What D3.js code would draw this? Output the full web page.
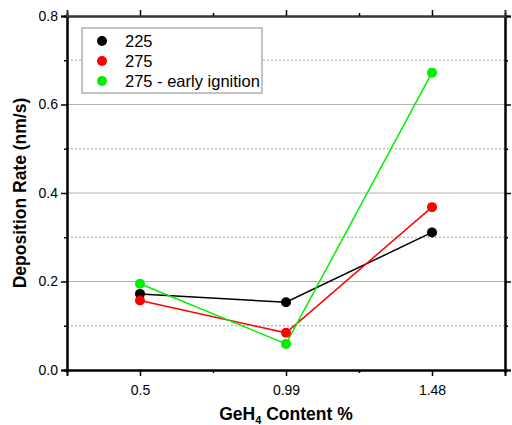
<!DOCTYPE html>
<html><head><meta charset="utf-8">
<script src="https://cdn.jsdelivr.net/npm/d3@7"></script>
<style>body{margin:0;background:#fff}svg{display:block;font-family:Arial,"Liberation Sans",sans-serif}</style>
</head><body>
<svg id="c" width="512" height="425"></svg>
<script>
const categories = ["0.5", "0.99", "1.48"];
const seriesNames = ["225", "275", "275 - early ignition"];
const series225 = [0.172, 0.153, 0.311];
const series275 = [0.157, 0.084, 0.368];
const series275early = [0.195, 0.059, 0.672];
const seriesColors = ["#000000", "#ff0000", "#00ee00"];
const yMajorTicks = [0.0, 0.2, 0.4, 0.6, 0.8];
const yMinorTicks = [0.1, 0.3, 0.5, 0.7];

const allSeries = [series225, series275, series275early];
const svg = d3.select("#c");
const L = 67, R = 505, T = 16, B = 370;
const x = d3.scaleLinear().domain([-0.5, categories.length - 0.5]).range([L, R]);
const y = d3.scaleLinear().domain([0, 0.8]).range([B, T]);

// grid
svg.append("g").selectAll("line").data(yMajorTicks.filter(v => v > 0 && v < 0.8)).join("line")
  .attr("x1", L).attr("x2", R).attr("y1", d => y(d)).attr("y2", d => y(d))
  .attr("stroke", "#b4b4b4").attr("stroke-width", 1);
svg.append("g").selectAll("line").data(yMinorTicks).join("line")
  .attr("x1", L).attr("x2", R).attr("y1", d => y(d)).attr("y2", d => y(d))
  .attr("stroke", "#888").attr("stroke-width", 0.8).attr("stroke-dasharray", "2,2");

// axes
const xMinor = d3.range(categories.length - 1).map(i => i + 0.5);
const fmt = d3.format(".1f");
const gl = svg.append("g").attr("transform", `translate(${L},0)`)
  .call(d3.axisLeft(y).tickValues(yMajorTicks).tickFormat(fmt).tickSize(6).tickPadding(3));
const glm = svg.append("g").attr("transform", `translate(${L},0)`)
  .call(d3.axisLeft(y).tickValues(yMinorTicks).tickFormat("").tickSize(3));
const gr = svg.append("g").attr("transform", `translate(${R},0)`)
  .call(d3.axisRight(y).tickValues(yMajorTicks).tickFormat("").tickSize(6));
const grm = svg.append("g").attr("transform", `translate(${R},0)`)
  .call(d3.axisRight(y).tickValues(yMinorTicks).tickFormat("").tickSize(3));
const gb = svg.append("g").attr("transform", `translate(0,${B})`)
  .call(d3.axisBottom(x).tickValues(d3.range(categories.length)).tickFormat(i => categories[i]).tickSize(6).tickPadding(9));
const gbm = svg.append("g").attr("transform", `translate(0,${B})`)
  .call(d3.axisBottom(x).tickValues(xMinor).tickFormat("").tickSize(3));
const gt = svg.append("g").attr("transform", `translate(0,${T})`)
  .call(d3.axisTop(x).tickValues(d3.range(categories.length)).tickFormat("").tickSize(6));
const gtm = svg.append("g").attr("transform", `translate(0,${T})`)
  .call(d3.axisTop(x).tickValues(xMinor).tickFormat("").tickSize(3));
[gl, glm, gr, grm, gb, gbm, gt, gtm].forEach(g => {
  g.attr("font-size", 14).attr("font-family", "Arial, 'Liberation Sans', sans-serif");
  g.select(".domain").attr("stroke", "#000").attr("stroke-width", 2);
  g.selectAll(".tick line").attr("stroke", "#000").attr("stroke-width", 1.5);
  g.selectAll("text").attr("fill", "#000");
});
[gt, gtm].forEach(g => g.select(".domain").attr("stroke", "#333"));

// lines & points
const line = d3.line().x((d, i) => x(i)).y(d => y(d));
allSeries.forEach((s, k) => {
  svg.append("path").datum(s).attr("d", line).attr("fill", "none")
    .attr("stroke", seriesColors[k]).attr("stroke-width", 1.5);
});
allSeries.forEach((s, k) => {
  svg.append("g").selectAll("circle").data(s).join("circle")
    .attr("cx", (d, i) => x(i)).attr("cy", d => y(d)).attr("r", 5)
    .attr("fill", seriesColors[k]);
});

// legend
const lg = svg.append("g");
lg.append("rect").attr("x", 82).attr("y", 28).attr("width", 180).attr("height", 65)
  .attr("fill", "#fff").attr("stroke", "#888").attr("stroke-width", 1);
seriesNames.forEach((n, k) => {
  const yy = 41 + k * 20;
  lg.append("circle").attr("cx", 102).attr("cy", yy).attr("r", 5).attr("fill", seriesColors[k]);
  lg.append("text").attr("x", 125).attr("y", yy + 6).attr("font-size", 16.5).text(n);
});

// titles
svg.append("text").attr("transform", `translate(26,${(T + B) / 2}) rotate(-90)`)
  .attr("text-anchor", "middle").attr("font-size", 17.5).attr("font-weight", "bold")
  .text("Deposition Rate (nm/s)");
const xt = svg.append("text").attr("x", (L + R) / 2).attr("y", 420)
  .attr("text-anchor", "middle").attr("font-size", 17.5).attr("font-weight", "bold");
xt.append("tspan").text("GeH");
xt.append("tspan").attr("font-size", 11).attr("dy", 4).text("4");
xt.append("tspan").attr("dy", -4).text(" Content %");
</script>
</body></html>
